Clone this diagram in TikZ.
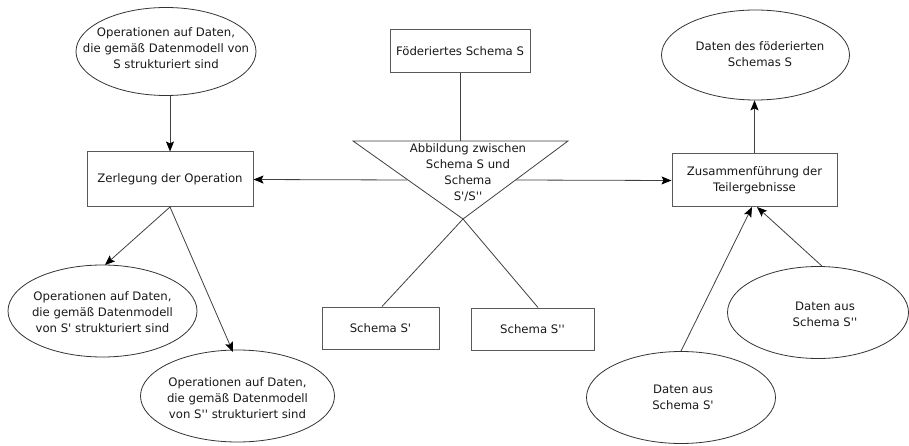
\documentclass[tikz,border=0pt]{standalone}
\usepackage{fontspec}
\setmainfont[Ligatures=TeXOff]{DejaVu Sans}
\usetikzlibrary{shapes.geometric,arrows.meta}
\begin{document}
\begin{tikzpicture}[x=1pt,y=-1pt,
  every node/.style={font=\fontsize{11.7}{16}\selectfont, align=center, inner sep=0pt, text=black!90},
  ell/.style={draw=black!80, ellipse, line width=0.8pt},
  box/.style={draw=black!65, rectangle, line width=1pt},
  link/.style={draw=black!75, line width=0.8pt},
  arr/.style={link, -{Stealth[length=10pt,width=8pt,inset=2pt,color=black]}}]
\useasboundingbox[fill=white] (0,0) rectangle (909,446);

% rectangles
\node[box, minimum width=140pt, minimum height=43pt] (fed) at (460,51.5) {Föderiertes Schema S};
\node[box, minimum width=166pt, minimum height=55pt] (zer) at (170,179.5) {Zerlegung der Operation};
\node[box, minimum width=165pt, minimum height=53pt] (zus) at (754.5,180.5) {Zusammenführung der\\Teilergebnisse};
\node[box, minimum width=117pt, minimum height=42pt] (s1) at (380.5,328) {Schema S'};
\node[box, minimum width=123pt, minimum height=42pt] (s2) at (532.5,329) {Schema S''};

% ellipses
\node[ell, minimum width=180pt, minimum height=88pt] (opS) at (166,51.5) {};
\node at (166,48.5) {Operationen auf Daten,\\die gemäß Datenmodell von\\S strukturiert sind};
\node[ell, minimum width=188pt, minimum height=90pt] (datS) at (755.5,55) {};
\node at (760,54) {Daten des föderierten\\Schemas S};
\node[ell, minimum width=189pt, minimum height=92pt] (opS1) at (102.5,311) {};
\node at (102.5,312) {Operationen auf Daten,\\die gemäß Datenmodell\\von S' strukturiert sind};
\node[ell, minimum width=194pt, minimum height=92pt] (opS2) at (237.5,396) {};
\node at (237.5,398.5) {Operationen auf Daten,\\die gemäß Datenmodell\\von S'' strukturiert sind};
\node[ell, minimum width=181pt, minimum height=92pt] (dat2) at (818,312.5) {};
\node at (825,314) {Daten aus\\Schema S''};
\node[ell, minimum width=189pt, minimum height=92pt] (dat1) at (681,397.5) {};
\node at (683,397) {Daten aus\\Schema S'};

% mapping triangle with crossing legs
\coordinate (tl) at (353,141);
\coordinate (tr) at (568,141);
\coordinate (apex) at (463,219);
\coordinate (tm) at (460,141);
\coordinate (lm) at (407,180);
\coordinate (rm) at (516,180);
\draw[link] (tl) -- (tr) -- (apex) -- cycle;
\node (abb) at (468,172.5) {Abbildung zwischen\\Schema S und\\Schema\\S'/S''};
\draw[link] (apex) -- (s1.north -| 382,0);
\draw[link] (apex) -- (s2.north -| 538,0);
\draw[link] (fed.south) -- (tm);

% operation flow
\draw[arr] (opS.south -| zer.north) -- (zer.north);
\draw[arr] (lm) -- (zer.east);
\draw[arr] (rm) -- (zus.west);
\coordinate (zb) at (170,207);
\draw[arr] (zb) -- (105,265);
\draw[arr] (zb) -- (233,352);

% data flow
\draw[arr] (zus.north) -- (datS.south -| zus.north);
\draw[arr] (dat1.north) -- (752,207);
\draw[arr] (dat2.north -| 822,0) -- (757,207);
\end{tikzpicture}
\end{document}
